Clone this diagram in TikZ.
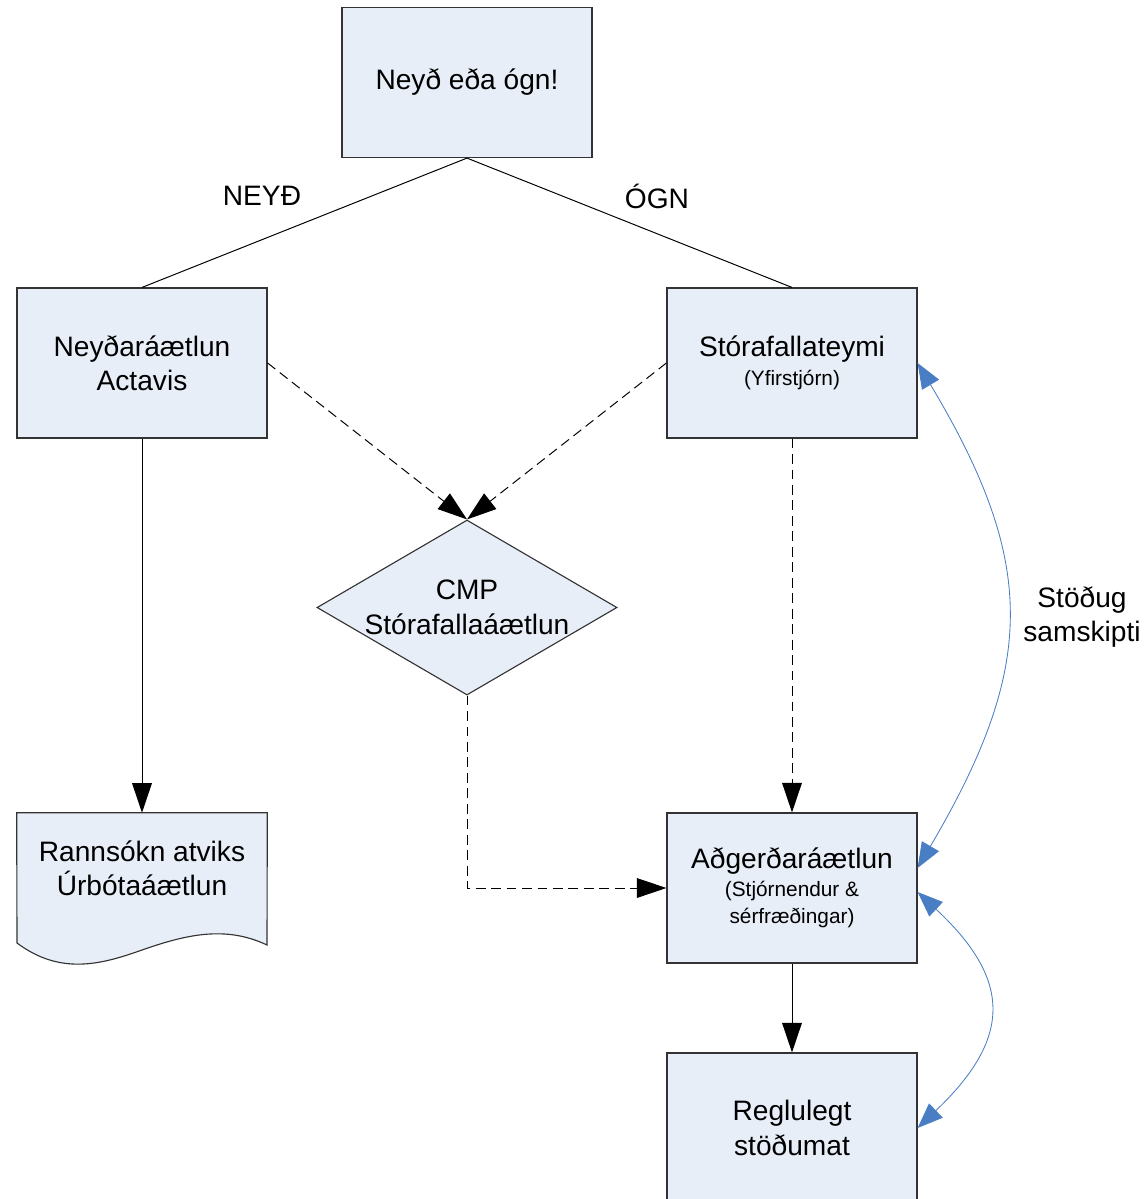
\documentclass[tikz,border=0pt]{standalone}
\usepackage{fontspec}
\setmainfont{Liberation Sans}
\usetikzlibrary{shapes.geometric,arrows.meta,positioning,calc,backgrounds}
\definecolor{boxfill}{RGB}{232,238,248}
\definecolor{linkblue}{RGB}{74,126,196}
\newcommand{\subline}[1]{{\fontsize{14.8}{18}\selectfont #1}}

\begin{document}
\begin{tikzpicture}[
    x=0.025cm, y=-0.025cm,
    box/.style={rectangle, draw=black!80, fill=boxfill, line width=0.8pt, minimum width=6.25cm, minimum height=3.75cm, align=center, font=\fontsize{20}{24.5}\selectfont},
    arrow/.style={-{Triangle[length=21pt, width=14pt]}, line width=0.7pt},
    dasharrow/.style={arrow, dash pattern=on 7pt off 4pt},
    bluearrow/.style={{Triangle[length=18pt, width=14pt]}-{Triangle[length=18pt, width=14pt]}, draw=linkblue, line width=0.6pt},
    lbl/.style={font=\fontsize{20}{24.5}\selectfont, align=center}
]
    \useasboundingbox (0,0) rectangle (1147,1199);

    % Top question and the two branches
    \node[box] (start) at (467,82.5) {Neyð eða ógn!};
    \node[box] (neyd) at (142,363) {Neyðaráætlun\\Actavis};
    \node[box] (teymi) at (792,363) {Stórafallateymi\\[-4pt]\subline{(Yfirstjórn)}};
    \draw[line width=0.7pt] (start.south) -- (neyd.north);
    \draw[line width=0.7pt] (start.south) -- (teymi.north);
    \node[lbl] (neydlbl) at (262,196) {NEYÐ};
    \node[lbl] (ognlbl) at (657,196) {ÓGN};

    % CMP decision
    \node[diamond, draw=black!80, fill=boxfill, line width=0.8pt, inner sep=0pt, minimum width=7.5cm, minimum height=4.375cm,
        label={[lbl]center:CMP\\Stórafallaáætlun}] (cmp) at (467,607.5) {};
    \draw[dasharrow] (neyd.east) -- (cmp.north);
    \draw[dasharrow] (teymi.west) -- (cmp.north);

    % Document shape with wavy bottom
    \node[rectangle, minimum width=6.25cm, minimum height=2.75cm, align=center, font=\fontsize{20}{24.5}\selectfont] (doc) at (142,868) {Rannsókn atviks\\Úrbótaáætlun};
    \begin{scope}[on background layer]
        \draw[draw=black!80, fill=boxfill, line width=0.8pt] (doc.north west) -- (doc.north east) -- (267,945)
            .. controls (225,925) and (185,935) .. (142,950)
            .. controls (100,965) and (60,975) .. (17,943) -- cycle;
    \end{scope}
    \draw[arrow] (neyd.south) -- (doc.north);

    % Action plan and review
    \node[box] (adg) at (792,888) {Aðgerðaráætlun\\[-5pt]\subline{(Stjórnendur \&}\\[-5pt]\subline{sérfræðingar)}};
    \node[box] (regl) at (792,1128) {Reglulegt\\stöðumat};
    \draw[dasharrow] (teymi.south) -- (adg.north);
    \draw[dasharrow] (cmp.south) |- (adg.west);
    \draw[arrow] (adg.south) -- (regl.north);

    % Continuous communication
    \draw[bluearrow] (teymi.east) .. controls (1037,563) and (1037,665) .. ([yshift=0.5cm]adg.east);
    \draw[bluearrow] ([yshift=-0.1cm]adg.east) .. controls (1012,980) and (1012,1038) .. (regl.east);
    \node[lbl] (samlbl) at (1082,617) {Stöðug\\samskipti};
\end{tikzpicture}
\end{document}
